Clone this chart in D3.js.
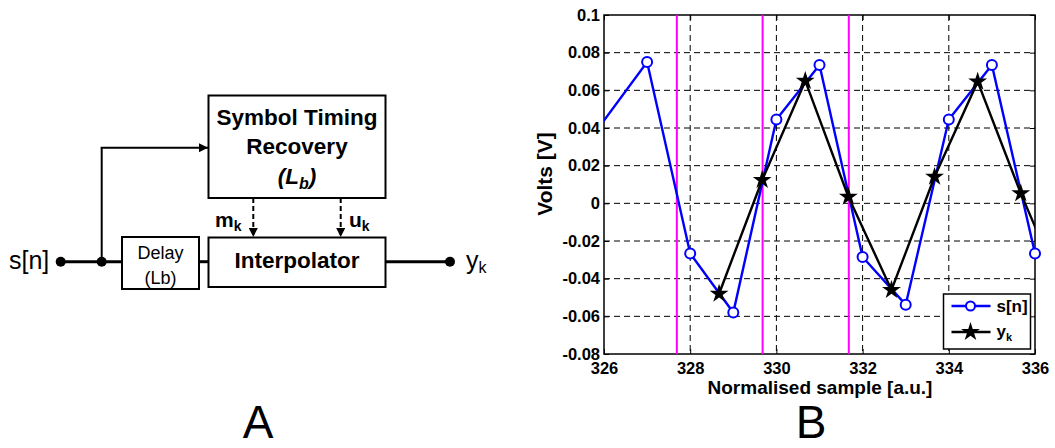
<!DOCTYPE html>
<html>
<head>
<meta charset="utf-8">
<script src="https://cdn.jsdelivr.net/npm/d3@7/dist/d3.min.js"></script>
<style>
  body { margin: 0; background: #fff; }
  svg { display: block; font-family: "Liberation Sans", Arial, sans-serif; }
</style>
</head>
<body>
<div id="fig"></div>
<script>
// ---- data ----
const sampleX = [325, 327, 328, 329, 330, 331, 332, 333, 334, 335, 336];
const sampleV = [0.013, 0.075, -0.0266, -0.058, 0.0445, 0.0735, -0.0285, -0.0538, 0.0445, 0.0735, -0.0266];
const strobeX = [328.67, 329.67, 330.67, 331.67, 332.67, 333.67, 334.67, 335.67, 336.67];
const strobeV = [-0.048, 0.0124, 0.065, 0.0035, -0.046, 0.0141, 0.0646, 0.0053, -0.048];
const timingX = [327.69, 329.68, 331.68];
const xTicks = [326, 328, 330, 332, 334, 336];
const yTicks = [0.1, 0.08, 0.06, 0.04, 0.02, 0, -0.02, -0.04, -0.06, -0.08];

const W = 1055, H = 448;
const plotMargin = {top: 15, right: 20, bottom: 94, left: 604},
    plotWidth = W - plotMargin.left - plotMargin.right,
    plotHeight = H - plotMargin.top - plotMargin.bottom;

let x = d3.scaleLinear().domain([326, 336]).range([0, plotWidth]),
    y = d3.scaleLinear().domain([-0.08, 0.1]).range([plotHeight, 0]);

const svg = d3.select("#fig").append("svg")
    .attr("width", W)
    .attr("height", H);

const defs = svg.append("defs");
defs.append("marker")
    .attr("id", "arrow")
    .attr("viewBox", "0 0 10 10")
    .attr("refX", 10).attr("refY", 5)
    .attr("markerWidth", 11).attr("markerHeight", 9)
    .attr("markerUnits", "userSpaceOnUse")
    .attr("orient", "auto")
    .append("path").attr("d", "M0,0L10,5L0,10Z").attr("fill", "#000");
defs.append("clipPath").attr("id", "plotClip")
    .append("rect").attr("width", plotWidth).attr("height", plotHeight);

drawDiagram();
drawPlot();

// panel letters
svg.append("text").attr("x", 258).attr("y", 438).attr("text-anchor", "middle")
    .attr("font-size", 46).text("A");
svg.append("text").attr("x", 811).attr("y", 438).attr("text-anchor", "middle")
    .attr("font-size", 46).text("B");

function drawDiagram() {
    const g = svg.append("g").attr("class", "diagram");
    const busY = 261.7;

    function box(x0, y0, x1, y1) {
        g.append("rect").attr("x", x0).attr("y", y0)
            .attr("width", x1 - x0).attr("height", y1 - y0)
            .attr("fill", "none").attr("stroke", "#000").attr("stroke-width", 2);
    }
    function wire(x0, y0, x1, y1, w, arrow, dashed) {
        const l = g.append("line").attr("x1", x0).attr("y1", y0).attr("x2", x1).attr("y2", y1)
            .attr("stroke", "#000").attr("stroke-width", w);
        if (arrow) l.attr("marker-end", "url(#arrow)");
        if (dashed) l.attr("stroke-dasharray", "5,3");
    }

    box(208.5, 95.5, 385.5, 198);   // symbol timing recovery
    box(208.5, 237.5, 385.5, 287);  // interpolator
    box(122, 237, 199, 289);        // delay

    wire(60.7, busY, 122, busY, 3);
    wire(199, busY, 208.5, busY, 3);
    wire(385.5, busY, 450, busY, 3);
    wire(101.7, busY, 101.7, 147.7, 2);
    wire(100.7, 147.7, 208, 147.7, 2, true);
    wire(253.3, 198, 253.3, 237, 2, true, true);
    wire(340.7, 198, 340.7, 237, 2, true, true);

    [60.7, 101.7, 450].forEach(cx => {
        g.append("circle").attr("cx", cx).attr("cy", busY).attr("r", 5).attr("fill", "#000");
    });

    const bold = (t, xx, yy, size) => g.append("text").attr("x", xx).attr("y", yy)
        .attr("text-anchor", "middle").attr("font-size", size).attr("font-weight", "bold").text(t);
    bold("Symbol Timing", 297, 124.5, 22.5);
    bold("Recovery", 297, 154, 22.5);
    bold("Interpolator", 297, 267.5, 22.5);

    const lb = g.append("text").attr("x", 297).attr("y", 184).attr("text-anchor", "middle")
        .attr("font-size", 22.5).attr("font-weight", "bold").attr("font-style", "italic");
    lb.append("tspan").text("(L");
    lb.append("tspan").attr("font-size", 16).attr("dy", 5).text("b");
    lb.append("tspan").attr("dy", -5).text(")");

    const mk = g.append("text").attr("x", 215).attr("y", 227).attr("font-size", 21).attr("font-weight", "bold");
    mk.append("tspan").text("m");
    mk.append("tspan").attr("font-size", 14).attr("dy", 4).text("k");
    const uk = g.append("text").attr("x", 349).attr("y", 227).attr("font-size", 21).attr("font-weight", "bold");
    uk.append("tspan").text("u");
    uk.append("tspan").attr("font-size", 14).attr("dy", 4).text("k");

    g.append("text").attr("x", 160.5).attr("y", 259).attr("text-anchor", "middle")
        .attr("font-size", 18).text("Delay");
    g.append("text").attr("x", 160.5).attr("y", 283.5).attr("text-anchor", "middle")
        .attr("font-size", 18).text("(Lb)");

    g.append("text").attr("x", 9).attr("y", 269).attr("font-size", 25).text("s[n]");
    const yk = g.append("text").attr("x", 466).attr("y", 269).attr("font-size", 25);
    yk.append("tspan").text("y");
    yk.append("tspan").attr("font-size", 16).attr("dy", 4).text("k");
}

function drawPlot() {
    const plot = svg.append("g")
        .attr("transform", `translate(${plotMargin.left}, ${plotMargin.top})`);

    // grid
    plot.append("g").selectAll("line.vgrid")
        .data(xTicks.slice(1, -1)).enter().append("line")
        .attr("x1", d => x(d)).attr("x2", d => x(d))
        .attr("y1", 0).attr("y2", plotHeight)
        .attr("stroke", "#000").attr("stroke-width", 1).attr("stroke-dasharray", "6,4");
    plot.append("g").selectAll("line.hgrid")
        .data(yTicks.slice(1, -1)).enter().append("line")
        .attr("x1", 0).attr("x2", plotWidth)
        .attr("y1", d => y(d)).attr("y2", d => y(d))
        .attr("stroke", "#000").attr("stroke-width", 1).attr("stroke-dasharray", "6,4");

    // axes
    const yFmt = d => d === 0 ? "0" : String(+d.toFixed(2));
    const xAxis = plot.append("g")
        .attr("transform", "translate(0," + plotHeight + ")")
        .call(d3.axisBottom(x).tickValues(xTicks).tickSizeInner(-5).tickSizeOuter(0).tickPadding(8));
    const yAxis = plot.append("g")
        .call(d3.axisLeft(y).tickValues(yTicks).tickFormat(yFmt).tickSizeInner(-5).tickSizeOuter(0).tickPadding(4));
    plot.append("g").attr("transform", "translate(0,0)")
        .call(d3.axisTop(x).tickValues(xTicks).tickFormat("").tickSizeInner(-5).tickSizeOuter(0));
    plot.append("g").attr("transform", "translate(" + plotWidth + ",0)")
        .call(d3.axisRight(y).tickValues(yTicks).tickFormat("").tickSizeInner(-5).tickSizeOuter(0));
    [xAxis, yAxis].forEach(a => a.selectAll("text")
        .attr("font-size", 16.5).attr("font-weight", "bold")
        .attr("font-family", "'Liberation Sans', Arial, sans-serif").attr("fill", "#000"));
    plot.selectAll(".domain").remove();
    plot.append("rect").attr("width", plotWidth).attr("height", plotHeight)
        .attr("fill", "none").attr("stroke", "#000").attr("stroke-width", 1.5);

    // axis labels
    svg.append("text")
        .attr("x", 820).attr("y", 394).attr("text-anchor", "middle")
        .attr("font-size", 19).attr("font-weight", "bold")
        .text("Normalised sample [a.u.]");
    svg.append("text")
        .attr("transform", "translate(552,174) rotate(-90)")
        .attr("text-anchor", "middle")
        .attr("font-size", 21).attr("font-weight", "bold")
        .text("Volts [V]");

    // timing instants
    plot.append("g").selectAll("line")
        .data(timingX).enter().append("line")
        .attr("x1", d => x(d)).attr("x2", d => x(d))
        .attr("y1", 0).attr("y2", plotHeight)
        .attr("stroke", "#ff00ff").attr("stroke-width", 2);

    const sData = sampleX.map((d, i) => ({x: d, y: sampleV[i]}));
    const yData = strobeX.map((d, i) => ({x: d, y: strobeV[i]}));
    const line = d3.line().x(d => x(d.x)).y(d => y(d.y));
    const inView = d => d.x >= 326 && d.x <= 336;

    plot.append("path").datum(sData)
        .attr("clip-path", "url(#plotClip)")
        .attr("d", line).attr("fill", "none")
        .attr("stroke", "#0000ff").attr("stroke-width", 2.4);
    plot.append("path").datum(yData)
        .attr("clip-path", "url(#plotClip)")
        .attr("d", line).attr("fill", "none")
        .attr("stroke", "#000").attr("stroke-width", 2.4);

    plot.append("g").selectAll("circle")
        .data(sData.filter(inView)).enter().append("circle")
        .attr("cx", d => x(d.x)).attr("cy", d => y(d.y)).attr("r", 5)
        .attr("fill", "#fff").attr("stroke", "#0000ff").attr("stroke-width", 2);
    const star = d3.symbol().type(d3.symbolStar).size(110);
    plot.append("g").selectAll("path")
        .data(yData.filter(inView)).enter().append("path")
        .attr("transform", d => `translate(${x(d.x)},${y(d.y)})`)
        .attr("d", star).attr("fill", "#000");

    // legend
    const lg = svg.append("g").attr("transform", "translate(943.5,294)");
    lg.append("rect").attr("width", 87).attr("height", 55)
        .attr("fill", "#fff").attr("stroke", "#000").attr("stroke-width", 1.5);
    lg.append("line").attr("x1", 8).attr("x2", 47).attr("y1", 12).attr("y2", 12)
        .attr("stroke", "#0000ff").attr("stroke-width", 2.4);
    lg.append("circle").attr("cx", 27).attr("cy", 12).attr("r", 4.5)
        .attr("fill", "#fff").attr("stroke", "#0000ff").attr("stroke-width", 2);
    lg.append("line").attr("x1", 8).attr("x2", 47).attr("y1", 38).attr("y2", 38)
        .attr("stroke", "#000").attr("stroke-width", 2.4);
    lg.append("path").attr("transform", "translate(27,38)").attr("d", star).attr("fill", "#000");
    lg.append("text").attr("x", 53).attr("y", 18).attr("font-size", 17).attr("font-weight", "bold").text("s[n]");
    const lyk = lg.append("text").attr("x", 53).attr("y", 43).attr("font-size", 17).attr("font-weight", "bold");
    lyk.append("tspan").text("y");
    lyk.append("tspan").attr("font-size", 11).attr("dy", 4).text("k");
}
</script>
</body>
</html>
